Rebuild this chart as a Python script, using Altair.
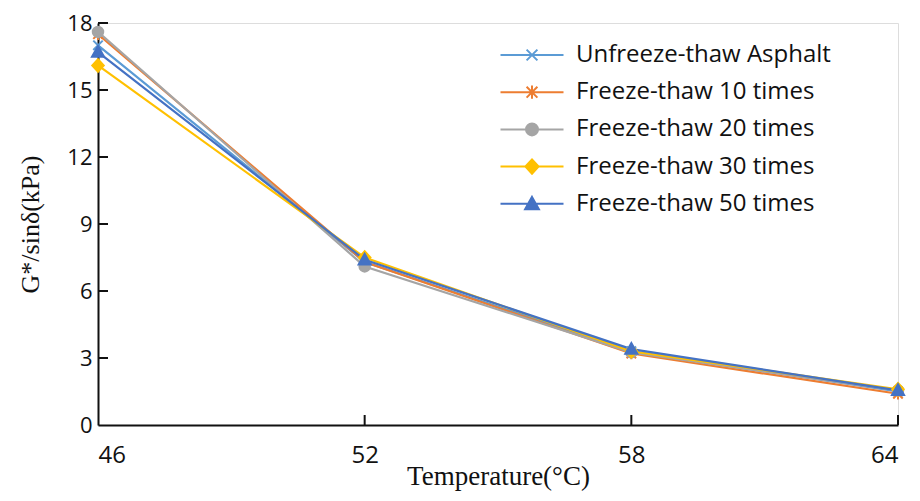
import altair as alt
import pandas as pd

temps = [46, 52, 58, 64]
series_names = [
    "Unfreeze-thaw Asphalt",
    "Freeze-thaw 10 times",
    "Freeze-thaw 20 times",
    "Freeze-thaw 30 times",
    "Freeze-thaw 50 times",
]
unfreeze = [17.0, 7.3, 3.3, 1.5]
ft10 = [17.5, 7.3, 3.2, 1.4]
ft20 = [17.6, 7.1, 3.25, 1.55]
ft30 = [16.1, 7.5, 3.3, 1.6]
ft50 = [16.7, 7.4, 3.4, 1.55]
colors = ["#5B9BD5", "#ED7D31", "#A5A5A5", "#FFC000", "#4472C4"]
x_ticks = [46, 52, 58, 64]
y_ticks = [0, 3, 6, 9, 12, 15, 18]

marker_paths = [
    "M-0.9,-0.9L0.9,0.9M-0.9,0.9L0.9,-0.9",
    "M-0.9,-0.9L0.9,0.9M-0.9,0.9L0.9,-0.9M0,-1.1L0,1.1",
    "M-1,0A1,1 0 1,1 1,0A1,1 0 1,1 -1,0Z",
    "M0,-1.2L1.1,0L0,1.2L-1.1,0Z",
    "M0,-1.15L1.15,0.9L-1.15,0.9Z",
]
line_seg = "M-5.25,0L5.25,0"
legend_paths = [line_seg + p for p in marker_paths]

rows = []
for name, vals in zip(series_names, [unfreeze, ft10, ft20, ft30, ft50]):
    for t, v in zip(temps, vals):
        rows.append({"T": t, "G": v, "series": name})
df = pd.DataFrame(rows)

W, H = 800, 402

xscale = alt.Scale(domain=[46, 64], nice=False)
yscale = alt.Scale(domain=[0, 18], nice=False)
cscale = alt.Scale(domain=series_names, range=colors)

x_enc = alt.X(
    "T:Q", scale=xscale,
    axis=alt.Axis(values=x_ticks, ticks=False, grid=False, title="Temperature(°C)",
                  labelFont="Open Sans", labelFontSize=24, labelColor="#111",
                  labelPadding=18, titleFont="Liberation Serif", titleFontSize=27,
                  titleFontWeight="normal", titleColor="#111", titlePadding=-4,
                  domainColor="#111", domainWidth=2),
)
y_enc = alt.Y(
    "G:Q", scale=yscale,
    axis=alt.Axis(values=y_ticks, ticks=False, grid=False, title="G*/sinδ(kPa)",
                  labelFont="Open Sans", labelFontSize=22, labelColor="#111",
                  labelPadding=6, titleFont="Liberation Serif", titleFontSize=26,
                  titleFontWeight="normal", titleColor="#111", titlePadding=23,
                  domainColor="#111", domainWidth=2),
)

base = alt.Chart(df)

lines = base.mark_line(strokeWidth=2.2).encode(
    x=x_enc, y=y_enc,
    color=alt.Color("series:N", scale=cscale, legend=None),
    order=alt.Order("T:Q"),
)

points = base.mark_point(filled=False, strokeWidth=2, size=110, opacity=1).encode(
    x="T:Q", y="G:Q",
    stroke=alt.Stroke("series:N", scale=cscale, legend=None),
    fill=alt.Fill("series:N", scale=alt.Scale(domain=series_names, range=colors), legend=None),
    shape=alt.Shape("series:N", scale=alt.Scale(domain=series_names, range=marker_paths), legend=None),
)

legend_layer = base.mark_point(filled=True, strokeWidth=2, size=144, opacity=1).encode(
    x="T:Q", y="G:Q",
    color=alt.Color("key:N", scale=alt.Scale(domain=series_names, range=colors),
                    legend=alt.Legend(title=None, orient="none", legendX=422, legendY=20,
                                      labelFont="Open Sans", labelFontSize=24, labelColor="#111",
                                      labelOffset=32, rowPadding=13.2, symbolSize=144,
                                      symbolStrokeWidth=2, symbolOpacity=1, labelLimit=400)),
    stroke=alt.Stroke("key:N", scale=alt.Scale(domain=series_names, range=colors)),
    shape=alt.Shape("key:N", scale=alt.Scale(domain=series_names, range=legend_paths)),
).transform_calculate(key="datum.series").transform_filter("datum.T < 0")

tick_x = alt.Chart(pd.DataFrame({"t": x_ticks[1:]})).mark_rule(color="#111", strokeWidth=2).encode(
    x=alt.X("t:Q", scale=xscale), y=alt.value(H), y2=alt.value(H - 10)
)
tick_y = alt.Chart(pd.DataFrame({"v": y_ticks[1:]})).mark_rule(color="#111", strokeWidth=2).encode(
    y=alt.Y("v:Q", scale=yscale), x=alt.value(0), x2=alt.value(10)
)

chart = alt.layer(lines, points, tick_x, tick_y, legend_layer).resolve_scale(
    color="independent", shape="independent", stroke="independent", fill="independent"
).properties(
    width=W, height=H,
    autosize=alt.AutoSizeParams(type="none"),
    padding={"left": 90, "top": 15, "right": 14, "bottom": 68},
).configure_view(stroke=None).configure(background="white")

chart.save("out.html", embed_options={"renderer": "svg", "actions": False})
